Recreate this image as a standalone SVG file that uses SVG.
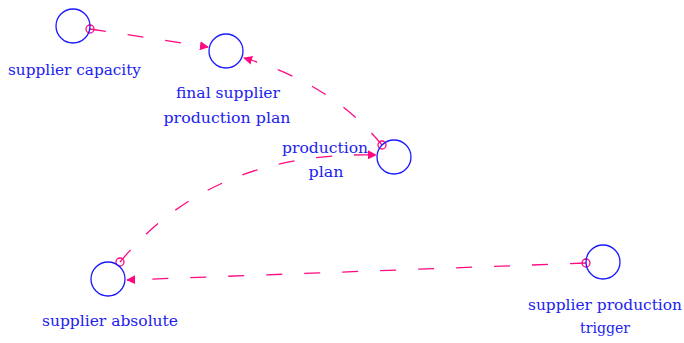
<svg xmlns="http://www.w3.org/2000/svg" width="684" height="343" viewBox="0 0 684 343">
<defs>
<style>
.node{fill:none;stroke:#1a1aff;stroke-width:1.3}
.lbl{font-family:"DejaVu Serif","Liberation Serif",serif;font-size:14px;fill:#2222ee;text-anchor:middle}
.link{fill:none;stroke:#ff0a80;stroke-width:1.3;stroke-dasharray:16 22}
.tail{fill:none;stroke:#ff0a80;stroke-width:1.3}
</style>
<marker id="ah" viewBox="0 0 10 10" refX="9" refY="5" markerWidth="9" markerHeight="9" markerUnits="userSpaceOnUse" orient="auto">
<path d="M0,0 L10,5 L0,10 z" fill="#ff0a80"/>
</marker>
</defs>
<rect width="684" height="343" fill="#ffffff"/>
<g id="connectors">
<path class="link" d="M90,29 L208,47" marker-end="url(#ah)"/>
<circle class="tail" cx="90" cy="29" r="4"/>
<path class="link" d="M382,145 Q331,83 244,58" marker-end="url(#ah)"/>
<circle class="tail" cx="382" cy="145" r="4"/>
<path class="link" d="M120,262 Q212,151 376,155" marker-end="url(#ah)"/>
<circle class="tail" cx="120" cy="262" r="4"/>
<path class="link" d="M586,263 L127,280" marker-end="url(#ah)"/>
<circle class="tail" cx="586" cy="263" r="4"/>
</g>
<g id="supplier_capacity">
<circle class="node" cx="73" cy="26" r="17"/>
<text class="lbl" x="74.5" y="75" textLength="133" lengthAdjust="spacingAndGlyphs">supplier capacity</text>
</g>
<g id="final_supplier_production_plan">
<circle class="node" cx="226" cy="51" r="17"/>
<text class="lbl" x="228" y="98" textLength="104" lengthAdjust="spacingAndGlyphs">final supplier</text>
<text class="lbl" x="227" y="123" textLength="127" lengthAdjust="spacingAndGlyphs">production plan</text>
</g>
<g id="production_plan">
<circle class="node" cx="394" cy="157" r="17"/>
<text class="lbl" x="325" y="153" textLength="86" lengthAdjust="spacingAndGlyphs">production</text>
<text class="lbl" x="326" y="177" textLength="35" lengthAdjust="spacingAndGlyphs">plan</text>
</g>
<g id="supplier_absolute">
<circle class="node" cx="108" cy="279" r="17"/>
<text class="lbl" x="110" y="326" textLength="136" lengthAdjust="spacingAndGlyphs">supplier absolute</text>
</g>
<g id="supplier_production_trigger">
<circle class="node" cx="603" cy="262" r="17"/>
<text class="lbl" x="605" y="310" textLength="154" lengthAdjust="spacingAndGlyphs">supplier production</text>
<text class="lbl" x="605" y="333" textLength="50" lengthAdjust="spacingAndGlyphs">trigger</text>
</g>
</svg>
